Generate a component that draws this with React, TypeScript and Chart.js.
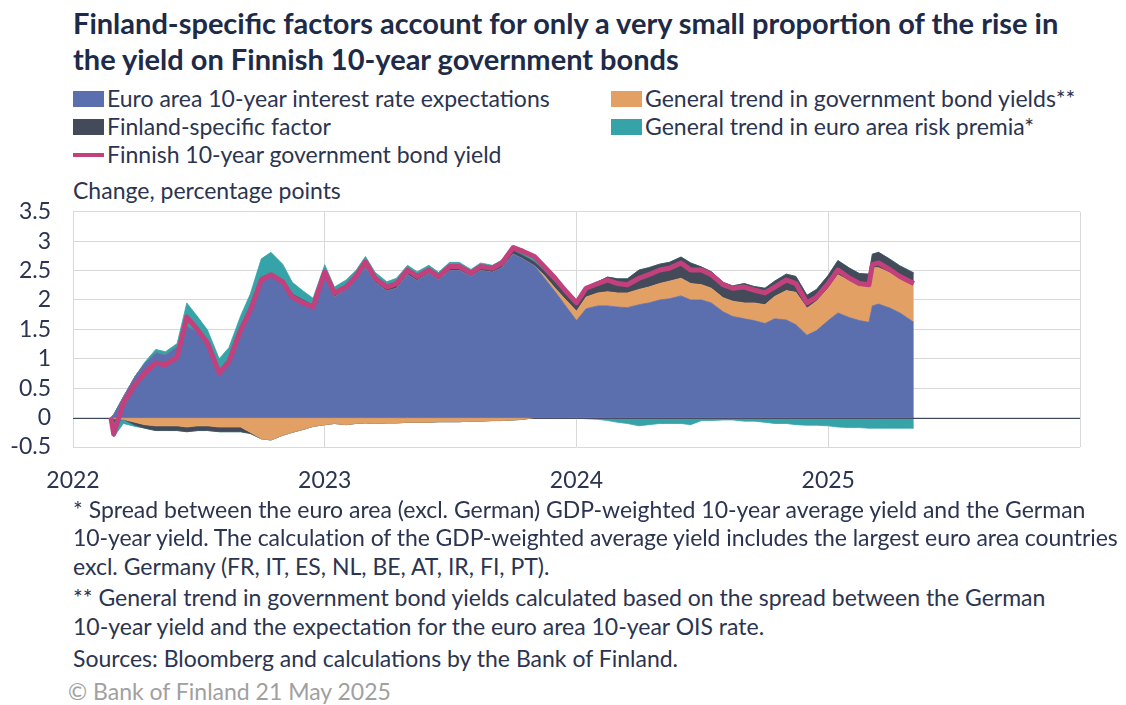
import React, { useEffect, useRef } from "react";
import { Chart, registerables } from "chart.js";

Chart.register(...registerables);

// ---------------- DATA ----------------
const dates = [
  "2022-02-25", "2022-03-01", "2022-03-15", "2022-04-01", "2022-04-15", "2022-05-01", "2022-05-15",
  "2022-06-01", "2022-06-15", "2022-07-01", "2022-07-15", "2022-08-01", "2022-08-15", "2022-09-01",
  "2022-09-15", "2022-10-01", "2022-10-15", "2022-11-01", "2022-11-15", "2022-12-01", "2022-12-15",
  "2023-01-01", "2023-01-15", "2023-02-01", "2023-02-15", "2023-03-01", "2023-03-15", "2023-04-01",
  "2023-04-15", "2023-05-01", "2023-05-15", "2023-06-01", "2023-06-15", "2023-07-01", "2023-07-15",
  "2023-08-01", "2023-08-15", "2023-09-01", "2023-09-15", "2023-10-01", "2023-10-15", "2023-11-01",
  "2023-11-15", "2023-12-01", "2023-12-15",
  "2024-01-01", "2024-01-15", "2024-02-01", "2024-02-15", "2024-03-01", "2024-03-15", "2024-04-01",
  "2024-04-15", "2024-05-01", "2024-05-15", "2024-06-01", "2024-06-15", "2024-07-01", "2024-07-15",
  "2024-08-01", "2024-08-15", "2024-09-01", "2024-09-15", "2024-10-01", "2024-10-15", "2024-11-01",
  "2024-11-15", "2024-12-01", "2024-12-15",
  "2025-01-01", "2025-01-15", "2025-02-01", "2025-02-15", "2025-03-01", "2025-03-06", "2025-03-15",
  "2025-04-01", "2025-04-15", "2025-05-05",
];

// Euro area 10-year interest rate expectations
const euroExpectations = [
  0, 0.05, 0.35, 0.7, 0.92, 1.1, 1.06, 1.2, 1.55, 1.45, 1.25, 0.78, 0.95, 1.5, 1.85, 2.4, 2.45, 2.3, 2.05, 1.95, 1.85,
  2.4, 2.05, 2.18, 2.35, 2.55, 2.3, 2.15, 2.2, 2.43, 2.33, 2.45, 2.34, 2.5, 2.5, 2.4, 2.5, 2.47, 2.55, 2.78, 2.7, 2.58, 2.38, 2.14, 1.92,
  1.65, 1.85, 1.9, 1.9, 1.88, 1.87, 1.92, 1.95, 2.0, 2.02, 2.07, 2.0, 2.0, 1.95, 1.8, 1.72, 1.68, 1.65, 1.6, 1.68, 1.66, 1.58, 1.4, 1.48,
  1.65, 1.78, 1.7, 1.65, 1.62, 1.9, 1.93, 1.86, 1.78, 1.62,
];

// General trend in government bond yields**
const generalTrend = [
  0, -0.02, -0.03, -0.08, -0.12, -0.14, -0.14, -0.14, -0.16, -0.14, -0.14, -0.16, -0.16, -0.16, -0.25, -0.36, -0.38, -0.3, -0.25, -0.2, -0.15,
  -0.12, -0.1, -0.12, -0.1, -0.09, -0.1, -0.09, -0.09, -0.08, -0.08, -0.08, -0.07, -0.07, -0.07, -0.06, -0.06, -0.05, -0.05, -0.04, -0.03, 0, 0.04, 0.06, 0.1,
  0.16, 0.2, 0.22, 0.24, 0.24, 0.25, 0.26, 0.27, 0.28, 0.3, 0.3, 0.28, 0.26, 0.25, 0.24, 0.26, 0.27, 0.3, 0.32, 0.38, 0.5, 0.55, 0.46, 0.5,
  0.55, 0.65, 0.62, 0.6, 0.6, 0.65, 0.62, 0.6, 0.58, 0.65,
];

// Finland-specific factor
const finlandFactor = [
  0, -0.05, 0, -0.05, -0.06, -0.08, -0.08, -0.08, -0.08, -0.08, -0.08, -0.08, -0.08, -0.08, -0.02, 0, 0, 0.03, 0.05, 0.05, 0.06,
  0.08, 0.08, 0.08, 0.08, 0.1, 0.1, 0.1, 0.1, 0.09, 0.09, 0.08, 0.08, 0.08, 0.08, 0.07, 0.07, 0.06, 0.06, 0.06, 0.06, 0.07, 0.08, 0.1, 0.12,
  0.15, 0.17, 0.19, 0.25, 0.24, 0.24, 0.33, 0.33, 0.33, 0.32, 0.36, 0.35, 0.3, 0.28, 0.26, 0.26, 0.33, 0.28, 0.28, 0.26, 0.28, 0.27, 0.22, 0.2,
  0.22, 0.24, 0.22, 0.2, 0.22, 0.23, 0.26, 0.23, 0.22, 0.19,
];

// General trend in euro area risk premia*
const riskPremia = [
  0, -0.26, -0.07, -0.02, 0.02, 0.06, 0.06, 0.06, 0.4, 0.26, 0.24, 0.22, 0.24, 0.23, 0.25, 0.3, 0.36, 0.28, 0.2, 0.15, 0.12,
  0.12, 0.09, 0.08, 0.07, 0.09, 0.07, 0.06, 0.07, 0.07, 0.06, 0.06, 0.05, 0.06, 0.06, 0.05, 0.06, 0.06, 0.07, 0.09, 0.1, 0.09, 0.07, 0.07, 0.03,
  -0.01, -0.02, -0.03, -0.05, -0.08, -0.1, -0.14, -0.12, -0.1, -0.1, -0.1, -0.12, -0.05, -0.05, -0.04, -0.04, -0.06, -0.06, -0.08, -0.1, -0.1, -0.12, -0.13, -0.13,
  -0.14, -0.16, -0.17, -0.17, -0.18, -0.18, -0.18, -0.18, -0.18, -0.18,
];

// Finnish 10-year government bond yield (change)
const finnishYield = [
  0, -0.28, 0.25, 0.56, 0.76, 0.93, 0.9, 1.03, 1.71, 1.49, 1.27, 0.76, 0.95, 1.49, 1.83, 2.34, 2.43, 2.31, 2.05, 1.95, 1.88,
  2.48, 2.12, 2.22, 2.4, 2.65, 2.37, 2.22, 2.28, 2.51, 2.4, 2.51, 2.4, 2.57, 2.57, 2.46, 2.57, 2.54, 2.63, 2.89, 2.83, 2.74, 2.57, 2.37, 2.17,
  1.95, 2.2, 2.28, 2.34, 2.28, 2.26, 2.37, 2.43, 2.51, 2.54, 2.63, 2.51, 2.51, 2.43, 2.26, 2.2, 2.22, 2.17, 2.12, 2.22, 2.34, 2.28, 1.95, 2.05,
  2.28, 2.51, 2.37, 2.28, 2.26, 2.6, 2.63, 2.51, 2.4, 2.28,
];

const yearLabels = [2022, 2023, 2024, 2025];
const yMin = -0.5;
const yMax = 3.5;
const yStep = 0.5;

const titleLines = [
  "Finland-specific factors account for only a very small proportion of the rise in",
  "the yield on Finnish 10-year government bonds",
];
const yAxisTitle = "Change, percentage points";
const footnotes = [
  "* Spread between the euro area (excl. German) GDP-weighted 10-year average yield and the German",
  "10-year yield. The calculation of the GDP-weighted average yield includes the largest euro area countries",
  "excl. Germany (FR, IT, ES, NL, BE, AT, IR, FI, PT).",
  "** General trend in government bond yields calculated based on the spread between the German",
  "10-year yield and the expectation for the euro area 10-year OIS rate.",
  "Sources: Bloomberg and calculations by the Bank of Finland.",
];
const copyright = "© Bank of Finland 21 May 2025";

// ---------------- STYLE ----------------
const FONT = "Lato, 'Noto Sans', sans-serif";
const NAVY = "#1d2a48";
const TEXT = "#2b3450";
const FS = 23;
const COLORS = {
  blue: "#5b6eae",
  orange: "#e3a064",
  dark: "#434b5a",
  teal: "#35a3a8",
  pink: "#c2417c",
};

function toYear(s: string): number {
  const [y, m, d] = s.split("-").map(Number);
  const start = Date.UTC(y, 0, 1);
  const end = Date.UTC(y + 1, 0, 1);
  return y + (Date.UTC(y, m - 1, d) - start) / (end - start);
}

const components = [
  { label: "Euro area 10-year interest rate expectations", values: euroExpectations, color: COLORS.blue },
  { label: "General trend in government bond yields**", values: generalTrend, color: COLORS.orange },
  { label: "Finland-specific factor", values: finlandFactor, color: COLORS.dark },
  { label: "General trend in euro area risk premia*", values: riskPremia, color: COLORS.teal },
];

function buildDatasets() {
  const xs = dates.map(toYear);
  const out: any[] = [];
  // positive stack (Excel-style: positives and negatives stacked separately)
  let cum = xs.map(() => 0);
  components.forEach((c, i) => {
    cum = cum.map((p, j) => p + Math.max(c.values[j], 0));
    out.push({
      label: c.label + " +",
      data: xs.map((x, j) => ({ x, y: cum[j] })),
      backgroundColor: c.color,
      borderColor: c.color,
      borderWidth: 0.8,
      pointRadius: 0,
      fill: i === 0 ? "origin" : "-1",
      tension: 0,
      order: 5,
    });
  });
  cum = xs.map(() => 0);
  components.forEach((c, i) => {
    cum = cum.map((p, j) => p + Math.min(c.values[j], 0));
    out.push({
      label: c.label + " -",
      data: xs.map((x, j) => ({ x, y: cum[j] })),
      backgroundColor: c.color,
      borderColor: c.color,
      borderWidth: 0.8,
      pointRadius: 0,
      fill: i === 0 ? "origin" : "-1",
      tension: 0,
      order: 5,
    });
  });
  out.push({
    label: "Finnish 10-year government bond yield",
    data: xs.map((x, j) => ({ x, y: finnishYield[j] })),
    borderColor: COLORS.pink,
    backgroundColor: COLORS.pink,
    borderWidth: 5,
    pointRadius: 0,
    fill: false,
    tension: 0,
    borderJoinStyle: "round",
    order: 0,
  });
  return out;
}

const zeroLinePlugin = {
  id: "zeroLine",
  afterDatasetDraw(chart: any, args: any) {
    if (args.index !== 7) return;
    const { ctx, chartArea, scales } = chart;
    const py = Math.round(scales.y.getPixelForValue(0)) + 0.5;
    ctx.save();
    ctx.strokeStyle = "#3b4560";
    ctx.lineWidth = 1;
    ctx.beginPath();
    ctx.moveTo(chartArea.left, py);
    ctx.lineTo(chartArea.right, py);
    ctx.stroke();
    ctx.restore();
  },
};

const CANVAS_TOP = 176;
const CANVAS_W = 1100;
const CANVAS_H = 324;

function ChartCanvas() {
  const ref = useRef<HTMLCanvasElement | null>(null);
  useEffect(() => {
    if (!ref.current) return;
    const chart = new Chart(ref.current, {
      type: "line",
      data: { datasets: buildDatasets() },
      plugins: [zeroLinePlugin],
      options: {
        responsive: false,
        animation: false,
        layout: { padding: { top: 0, right: 19, bottom: 8, left: 0 } },
        plugins: { legend: { display: false }, tooltip: { enabled: false } },
        scales: {
          x: {
            type: "linear",
            min: 2022,
            max: 2026,
            ticks: {
              stepSize: 1,
              autoSkip: false,
              maxRotation: 0,
              padding: 20,
              color: TEXT,
              font: { family: FONT, size: FS },
              callback: (v: any) => (yearLabels.includes(Number(v)) ? String(v) : ""),
            },
            grid: { color: "#d9d9d9", drawTicks: false, lineWidth: 1 },
            border: { display: false },
            afterFit: (s: any) => {
              s.height = 45;
            },
          },
          y: {
            min: yMin,
            max: yMax,
            ticks: {
              stepSize: yStep,
              autoSkip: false,
              padding: 22,
              color: TEXT,
              font: { family: FONT, size: FS },
              callback: (v: any) => String(Math.round(Number(v) * 10) / 10),
            },
            grid: { color: "#d9d9d9", drawTicks: false, lineWidth: 1 },
            border: { display: false },
            afterFit: (s: any) => {
              s.width = 73;
            },
          },
        },
      },
    });
    return () => chart.destroy();
  }, []);
  return <canvas ref={ref} width={CANVAS_W} height={CANVAS_H} style={{ display: "block" }} />;
}

function TextLine({ x, cy, text, color = TEXT }: { x: number; cy: number; text: string; color?: string }) {
  return (
    <div style={{ position: "absolute", left: x, top: cy - 15, fontSize: FS, color, lineHeight: "28px", whiteSpace: "nowrap" }}>
      {text}
    </div>
  );
}

function LegendItem({ x, y, label, color, line }: { x: number; y: number; label: string; color: string; line?: boolean }) {
  return (
    <div style={{ position: "absolute", left: x, top: y - 15, height: 28, display: "flex", alignItems: "center", whiteSpace: "nowrap" }}>
      {line ? (
        <div style={{ width: 31, height: 4, background: color, marginRight: 3, marginTop: 2 }} />
      ) : (
        <div style={{ width: 31, height: 16, background: color, marginRight: 3, marginTop: 2 }} />
      )}
      <span style={{ fontSize: FS, color: TEXT, lineHeight: "28px" }}>{label}</span>
    </div>
  );
}

export default function App() {
  useEffect(() => {
    document.body.style.margin = "0";
  }, []);
  const footCenters = [510, 538, 567, 598, 627, 659];
  return (
    <div style={{ position: "absolute", left: 0, top: 0, width: 1126, height: 705, background: "#fff", fontFamily: FONT, overflow: "hidden" }}>
      {titleLines.map((t, i) => (
        <div key={i} style={{ position: "absolute", left: 73, top: 4 + i * 36, fontSize: 29, fontWeight: 700, color: NAVY, lineHeight: "38px", whiteSpace: "nowrap" }}>
          {t}
        </div>
      ))}
      <LegendItem x={73} y={99} label={components[0].label} color={components[0].color} />
      <LegendItem x={611} y={99} label={components[1].label} color={components[1].color} />
      <LegendItem x={73} y={127} label={components[2].label} color={components[2].color} />
      <LegendItem x={611} y={127} label={components[3].label} color={components[3].color} />
      <LegendItem x={73} y={155} label="Finnish 10-year government bond yield" color={COLORS.pink} line />
      <TextLine x={73} cy={191} text={yAxisTitle} />
      <div style={{ position: "absolute", left: 0, top: CANVAS_TOP, width: CANVAS_W, height: CANVAS_H }}>
        <ChartCanvas />
      </div>
      {footnotes.map((t, i) => (
        <div key={i} style={{ position: "absolute", left: 73, top: footCenters[i] - 15, fontSize: FS, color: TEXT, lineHeight: "28px", whiteSpace: "nowrap", letterSpacing: i === 1 ? "-0.08px" : undefined }}>
          {t}
        </div>
      ))}
      <TextLine x={68} cy={692} text={copyright} color="#a0a0a0" />
    </div>
  );
}
